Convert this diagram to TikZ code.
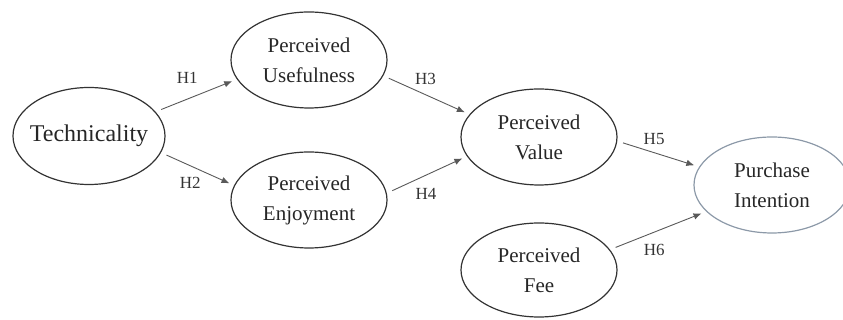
\documentclass[tikz,border=0pt]{standalone}
\usepackage{fontspec}
\setmainfont{Liberation Serif}
\usetikzlibrary{arrows.meta}
\usetikzlibrary{positioning}
\usetikzlibrary{shapes.geometric}
\usetikzlibrary{calc}

\definecolor{paleblue}{rgb}{0.55,0.6,0.66}

\tikzset{
  construct/.style={ellipse, draw=black!80, line width=1.2pt, minimum width=156pt,
    minimum height=96pt, inner sep=0pt, align=center, text=black!85,
    font=\fontsize{21}{30}\selectfont},
  hyp/.style={inner sep=0pt, text=black!80, font=\fontsize{17}{17}\selectfont},
  hypline/.style={->, black!65, line width=0.9pt, shorten <=6pt, shorten >=5pt}
}

\begin{document}
\begin{tikzpicture}[x=1pt,y=1pt,node distance=140pt,on grid,>={Latex[length=8pt,width=6.5pt]}]
            \useasboundingbox (0,0) rectangle (843,320);
            \node[construct, minimum width=152pt, minimum height=97pt, inner xsep=-17pt,
                  font=\fontsize{24}{30}\selectfont] (tech) at (89,184) {Technicality};
            \node[construct] (useful) [above right=76pt and 220pt of tech] {Perceived\\Usefulness};
            \node[construct] (enjoy) [below=of useful] {Perceived\\Enjoyment};
            \node[construct] (value) at ($(useful)!0.5!(enjoy)+(230,-7)$) {Perceived\\Value};
            \node[construct, draw=paleblue] (intent) [below right=48pt and 233pt of value] {Purchase\\Intention};
            \node[construct, minimum height=94pt] (fee) [below=133pt of value] {Perceived\\Fee};
            \path[hypline]
            (tech.20) edge node[hyp, pos=0.39, above=15pt] {H1} (useful.195)
            (tech.-13) edge node[hyp, pos=0.4, below=11pt] {H2} (enjoy.169)
            (useful.-12) edge node[hyp, pos=0.49, above=10pt] {H3} (value.162)
            (enjoy.5) edge node[hyp, pos=0.49, below=13pt] {H4} (value.195)
            (value.-3) edge node[hyp, pos=0.45, above=8pt] {H5} (intent.166)
            (fee.16) edge node[hyp, pos=0.46, below=12pt] {H6} (intent.202);
        \end{tikzpicture}
\end{document}
